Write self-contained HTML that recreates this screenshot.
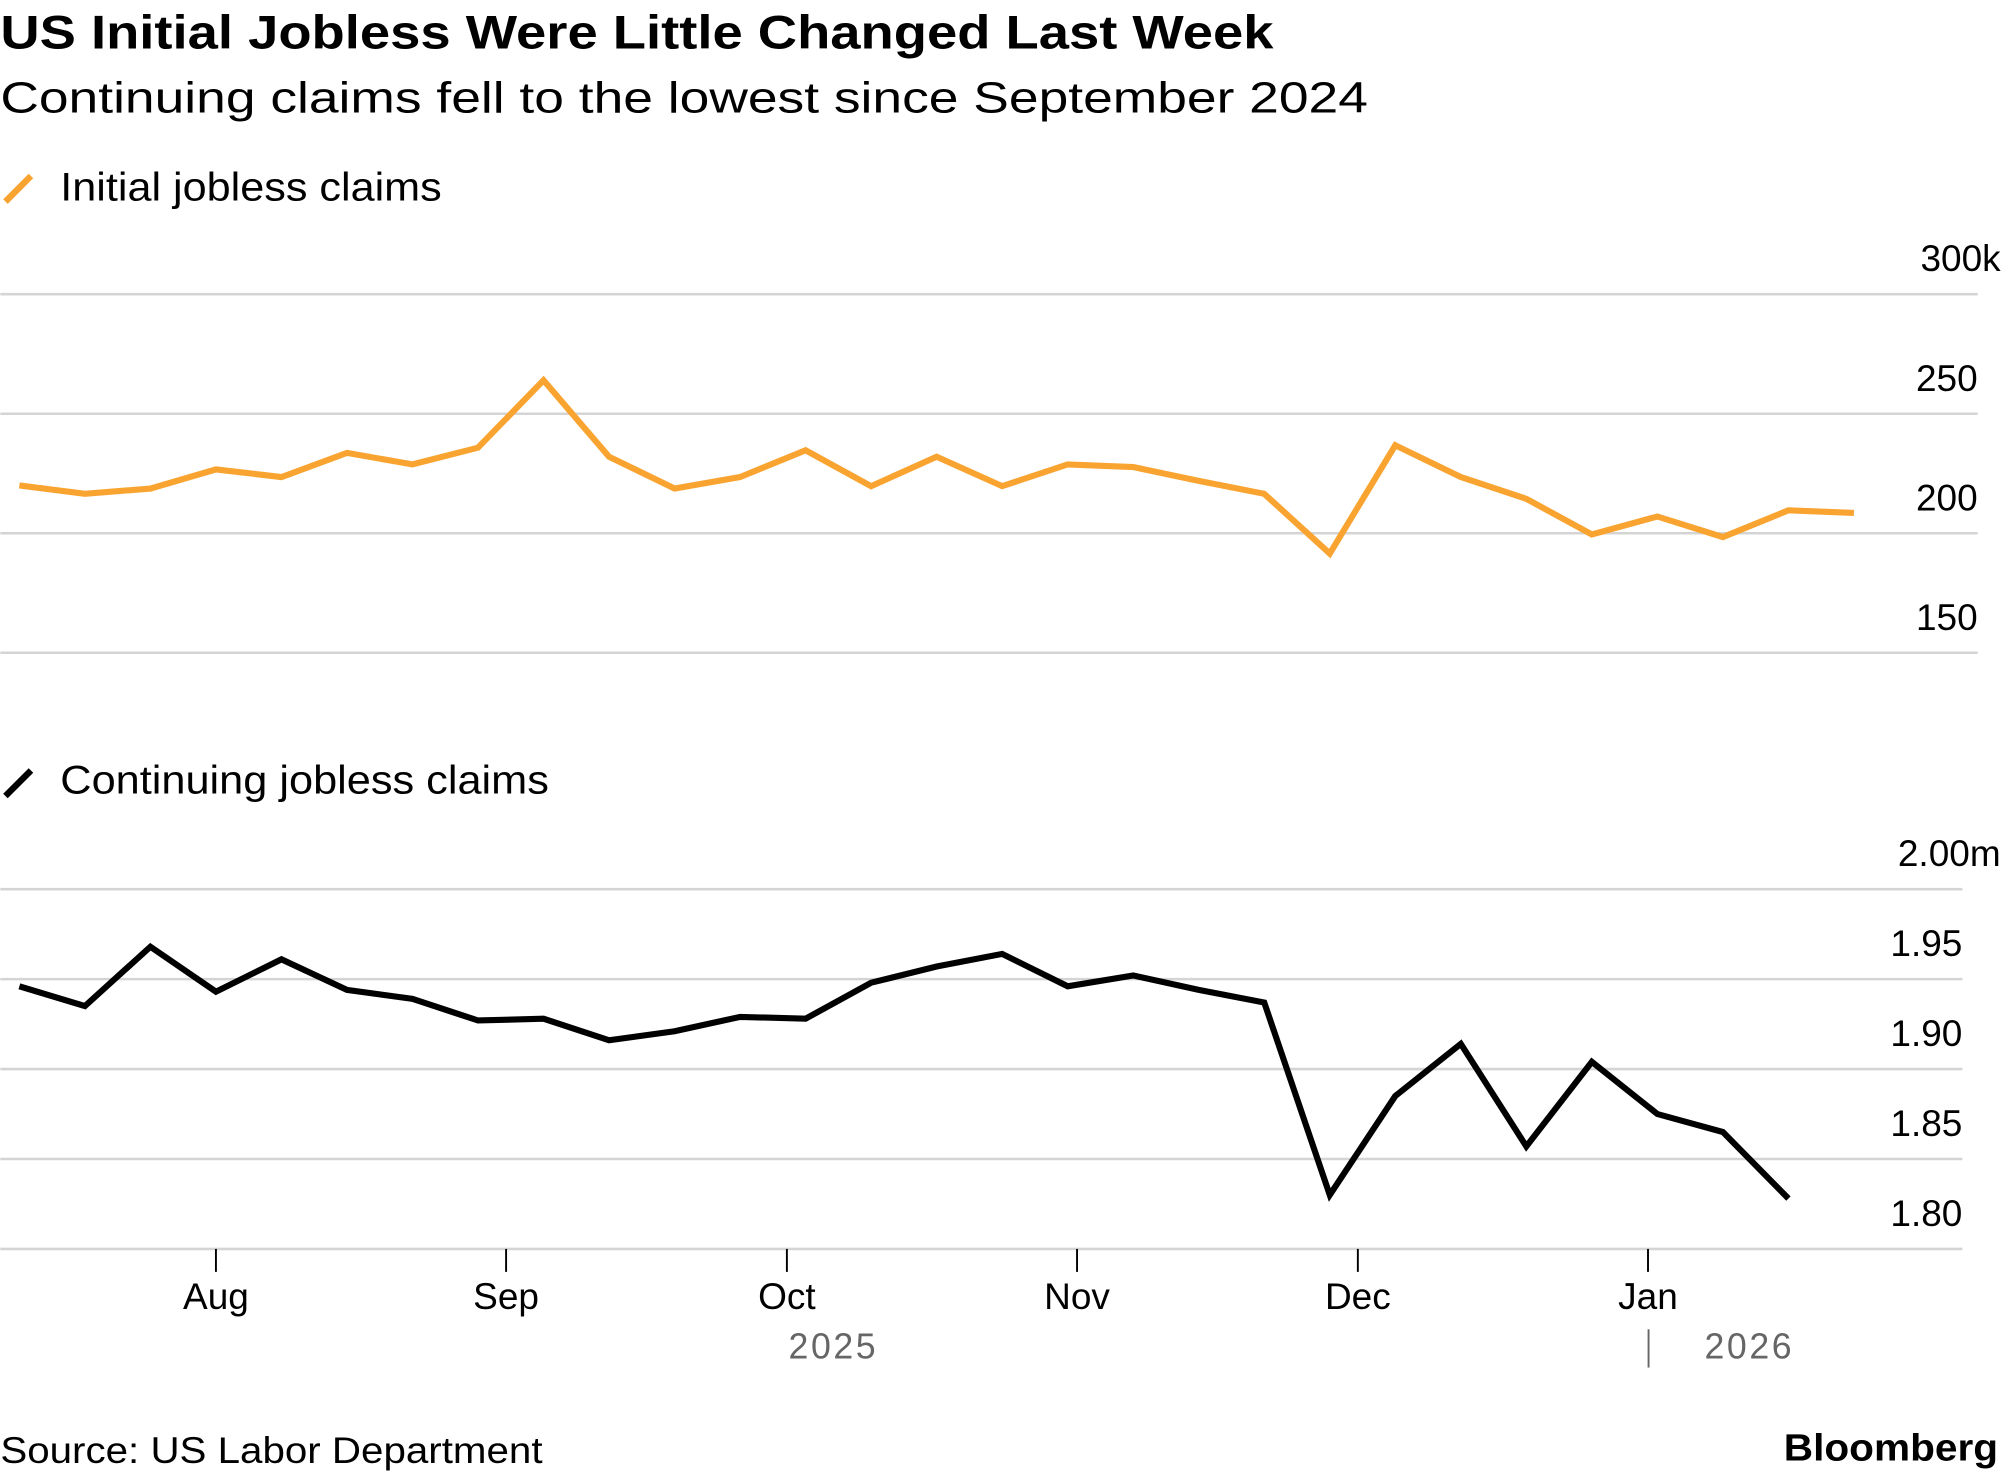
<!DOCTYPE html>
<html><head><meta charset="utf-8"><style>
html,body{margin:0;padding:0;background:#fff;}
svg{display:block;font-family:"Liberation Sans",Arial,sans-serif;}
</style></head><body>
<svg id="chart" width="2001" height="1476" viewBox="0 0 1568 1157" xmlns="http://www.w3.org/2000/svg">
<text x="0" y="38" font-size="37" font-weight="bold" textLength="998" lengthAdjust="spacingAndGlyphs">US Initial Jobless Were Little Changed Last Week</text>
<text x="0" y="88" font-size="34" textLength="1072" lengthAdjust="spacingAndGlyphs">Continuing claims fell to the lowest since September 2024</text>
<g>
<line x1="4" y1="158" x2="24" y2="138" stroke="#f9a431" stroke-width="5"/>
<text x="47" y="157" font-size="31" textLength="299" lengthAdjust="spacingAndGlyphs">Initial jobless claims</text></g>
<g>
<line x1="4" y1="624" x2="24" y2="604" stroke="#000" stroke-width="5"/>
<text x="47" y="622" font-size="31" textLength="383" lengthAdjust="spacingAndGlyphs">Continuing jobless claims</text></g>
<g id="topg"></g><g id="botg"></g><g id="xax"></g>
<text x="653" y="1065" font-size="28" fill="#666" text-anchor="middle" letter-spacing="2">2025</text>
<line x1="1292" y1="1042" x2="1292" y2="1072" stroke="#666" stroke-width="1.5"/>
<text x="1371" y="1065" font-size="28" fill="#666" text-anchor="middle" letter-spacing="2">2026</text>
<text x="0" y="1147" font-size="29" textLength="425" lengthAdjust="spacingAndGlyphs">Source: US Labor Department</text>
<text x="1398" y="1145" font-size="30" font-weight="bold" textLength="168" lengthAdjust="spacingAndGlyphs">Bloomberg</text>
</svg>
<script>
const initialValues=[220,216.5,218.7,226.7,223.5,233.6,228.8,235.8,264,232,218.7,223.5,234.7,219.7,232,219.7,228.8,227.7,221.9,216.5,191.5,236.8,223.5,214.4,199.5,207,198.4,209.6,208.5];
const continuingValues=[1.946,1.935,1.968,1.943,1.961,1.944,1.939,1.927,1.928,1.916,1.921,1.929,1.928,1.948,1.957,1.964,1.946,1.952,1.944,1.937,1.830,1.885,1.914,1.857,1.904,1.875,1.865,1.828];
const topTicks=[300,250,200,150];
const topTickLabels=["300k","250","200","150"];
const botTicks=[2.00,1.95,1.90,1.85,1.80];
const botTickLabels=["2.00m","1.95","1.90","1.85","1.80"];
const monthLabels=["Aug","Sep","Oct","Nov","Dec","Jan"];
const monthDates=["2025-08-01","2025-09-01","2025-10-01","2025-11-01","2025-12-01","2026-01-01"];
const firstWeek="2025-07-11";
const NS="http://www.w3.org/2000/svg";
const DAY=864e5, T0=Date.parse("2025-08-01"), PXD=7.337;
const xd=d=>169+(Date.parse(d)-T0)/DAY*PXD;
const X0=xd(firstWeek);
const xi=i=>X0+i*7*PXD;
const yTop=v=>418-(v-200)*93.7/50;
const yBot=v=>979-(v-1.80)*70.5/0.05;
function mk(tag,attrs,parent){const e=document.createElementNS(NS,tag);for(const k in attrs)e.setAttribute(k,attrs[k]);parent.appendChild(e);return e;}
const topG=document.getElementById('topg'),botG=document.getElementById('botg'),xax=document.getElementById('xax');
topTicks.forEach((v,i)=>{
 const l=mk('line',{x1:0,x2:1550,y1:yTop(v),y2:yTop(v),stroke:'#d4d4d4','stroke-width':2},topG);
 
 
 const t=mk('text',{x:1550,y:yTop(v)-18,'font-size':29,'text-anchor':'end'},topG);t.textContent=topTickLabels[i];
 if(i===0)t.setAttribute('x',1568);
 
 
});
botTicks.forEach((v,i)=>{
 const l=mk('line',{x1:0,x2:1538,y1:yBot(v),y2:yBot(v),stroke:'#d4d4d4','stroke-width':2},botG);
 
 
 const t=mk('text',{x:1538,y:yBot(v)-18,'font-size':29,'text-anchor':'end'},botG);t.textContent=botTickLabels[i];
 if(i===0)t.setAttribute('x',1568);
 
 
});
const p1=mk('polyline',{points:initialValues.map((v,i)=>xi(i)+','+yTop(v)).join(' '),fill:'none',stroke:'#f9a431','stroke-width':4.8,'stroke-linejoin':'miter'},topG);


const p2=mk('polyline',{points:continuingValues.map((v,i)=>xi(i)+','+yBot(v)).join(' '),fill:'none',stroke:'#000','stroke-width':4.8,'stroke-linejoin':'miter'},botG);


monthLabels.forEach((m,i)=>{
 const x=xd(monthDates[i]);
 const l=mk('line',{x1:x,x2:x,y1:979,y2:997,stroke:'#000','stroke-width':1.5},xax);
 
 
 const t=mk('text',{x:x,y:1026,'font-size':29,'text-anchor':'middle'},xax);t.textContent=m;
 
 
});
</script>
</body></html>
